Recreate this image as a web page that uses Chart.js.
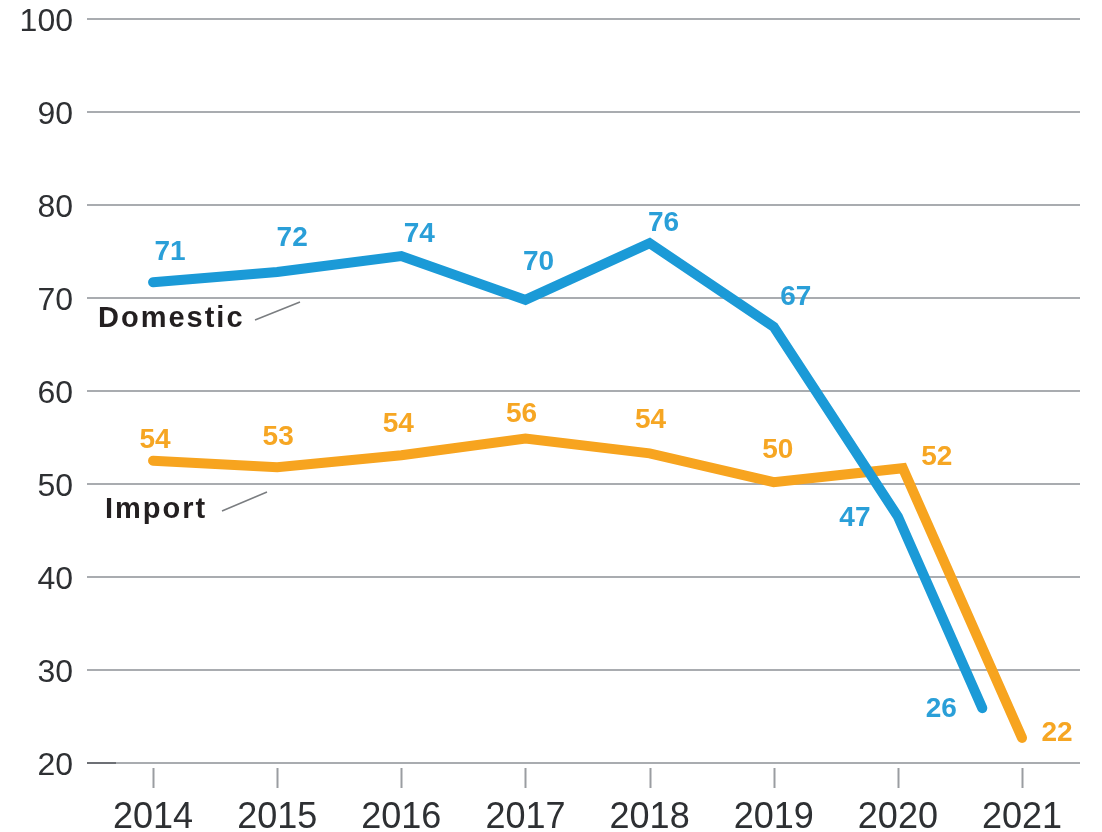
<!DOCTYPE html>
<html>
<head>
<meta charset="utf-8">
<script src="https://cdn.jsdelivr.net/npm/chart.js@4/dist/chart.umd.min.js"></script>
<style>
  html, body { margin: 0; padding: 0; background: #fff; }
  #wrap { width: 1102px; height: 832px; }
</style>
</head>
<body>
<div id="wrap"><canvas id="chart"></canvas></div>
<script>
// data
var years = [2014, 2015, 2016, 2017, 2018, 2019, 2020, 2021];
var domesticX = [2014, 2015, 2016, 2017, 2018, 2019, 2020, 2020.68];
var domesticY = [71.7, 72.8, 74.5, 69.8, 75.9, 66.9, 46.5, 25.9];
var domesticText = ["71", "72", "74", "70", "76", "67", "47", "26"];
var importX = [2014, 2015, 2016, 2017, 2018, 2019, 2020.04, 2021];
var importY = [52.5, 51.8, 53.1, 54.9, 53.3, 50.2, 51.7, 22.7];
var importText = ["54", "53", "54", "56", "54", "50", "52", "22"];

// label offsets from the points (px)
var domesticOff = [[17,-30],[15,-34],[18,-22],[13,-38],[14,-20],[22,-30],[-43,2],[-41,1]];
var importOff = [[2,-20],[1,-30],[-3,-31],[-4,-24],[1,-33],[4,-32],[34,-11],[35,-5]];

var BLUE = "#1b9ad7";
var ORANGE = "#f7a41f";

function toPoints(xs, ys) {
	return xs.map(function(x, i) { return { x: x, y: ys[i] }; });
}

var extras = {
	id: "extras",
	afterDatasetsDraw: function(chart) {
		var ctx = chart.ctx;
		var area = chart.chartArea;
		var xs = chart.scales.x;
		ctx.save();
		// tick marks under the axis
		ctx.strokeStyle = "#9a9da1";
		ctx.lineWidth = 2;
		years.forEach(function(y) {
			var px = Math.round(xs.getPixelForValue(y)) + 0.5;
			ctx.beginPath();
			ctx.moveTo(px, area.bottom + 5);
			ctx.lineTo(px, area.bottom + 25);
			ctx.stroke();
		});
		// dark stub at the base
		ctx.strokeStyle = "#6d7075";
		ctx.beginPath();
		ctx.moveTo(area.left, area.bottom);
		ctx.lineTo(area.left + 29, area.bottom);
		ctx.stroke();

		// value labels
		ctx.font = "bold 28px 'Liberation Sans', Arial, sans-serif";
		ctx.textAlign = "center";
		ctx.textBaseline = "middle";
		var sets = [[domesticText, domesticOff, "#2a9fd8"], [importText, importOff, "#f6a623"]];
		sets.forEach(function(s, di) {
			var meta = chart.getDatasetMeta(di);
			ctx.fillStyle = s[2];
			meta.data.forEach(function(pt, i) {
				ctx.fillText(s[0][i], pt.x + s[1][i][0], pt.y + s[1][i][1]);
			});
		});

		// series names with leader lines
		ctx.fillStyle = "#231f20";
		ctx.font = "bold 29px 'Liberation Sans', Arial, sans-serif";
		ctx.textAlign = "left";
		ctx.textBaseline = "alphabetic";
		ctx.letterSpacing = "2px";
		ctx.fillText("Domestic", 98, 327);
		ctx.fillText("Import", 105, 518);
		ctx.letterSpacing = "0px";
		ctx.strokeStyle = "#7a7d80";
		ctx.lineWidth = 1.5;
		ctx.beginPath();
		ctx.moveTo(255, 320); ctx.lineTo(300, 302);
		ctx.moveTo(222, 511); ctx.lineTo(267, 492);
		ctx.stroke();
		ctx.restore();
	}
};

var chart = new Chart(document.getElementById("chart").getContext("2d"), {
	type: "line",
	data: {
		datasets: [{
			label: "Domestic",
			data: toPoints(domesticX, domesticY),
			borderColor: BLUE,
			borderWidth: 10,
			borderCapStyle: "round",
			borderJoinStyle: "miter",
			pointRadius: 0,
			tension: 0,
			fill: false
		}, {
			label: "Import",
			data: toPoints(importX, importY),
			borderColor: ORANGE,
			borderWidth: 10,
			borderCapStyle: "round",
			borderJoinStyle: "miter",
			pointRadius: 0,
			tension: 0,
			fill: false
		}]
	},
	options: {
		responsive: true,
		maintainAspectRatio: false,
		animation: false,
		layout: { padding: { top: 19, right: 22, left: 0, bottom: 0 } },
		plugins: {
			legend: { display: false },
			tooltip: { enabled: false }
		},
		scales: {
			x: {
				type: "linear",
				min: 2013.468,
				max: 2021.467,
				afterBuildTicks: function(scale) {
					scale.ticks = years.map(function(v) { return { value: v }; });
				},
				afterFit: function(scale) {
					scale.height = 69;
					scale.paddingLeft = 0;
					scale.paddingRight = 0;
				},
				grid: { display: false },
				border: { display: false },
				ticks: {
					padding: 25,
					color: "#2e3033",
					font: { family: "'Liberation Sans', Arial, sans-serif", size: 36 },
					callback: function(v) { return String(v); }
				}
			},
			y: {
				min: 20,
				max: 100,
				afterFit: function(scale) {
					scale.width = 87;
					scale.paddingTop = 0;
					scale.paddingBottom = 0;
				},
				grid: { color: "#a9acb0", lineWidth: 2, drawTicks: false },
				border: { display: false },
				ticks: {
					stepSize: 10,
					padding: 14,
					labelOffset: 3,
					color: "#2e3033",
					font: { family: "'Liberation Sans', Arial, sans-serif", size: 32 }
				}
			}
		}
	},
	plugins: [extras]
});
</script>
</body>
</html>
